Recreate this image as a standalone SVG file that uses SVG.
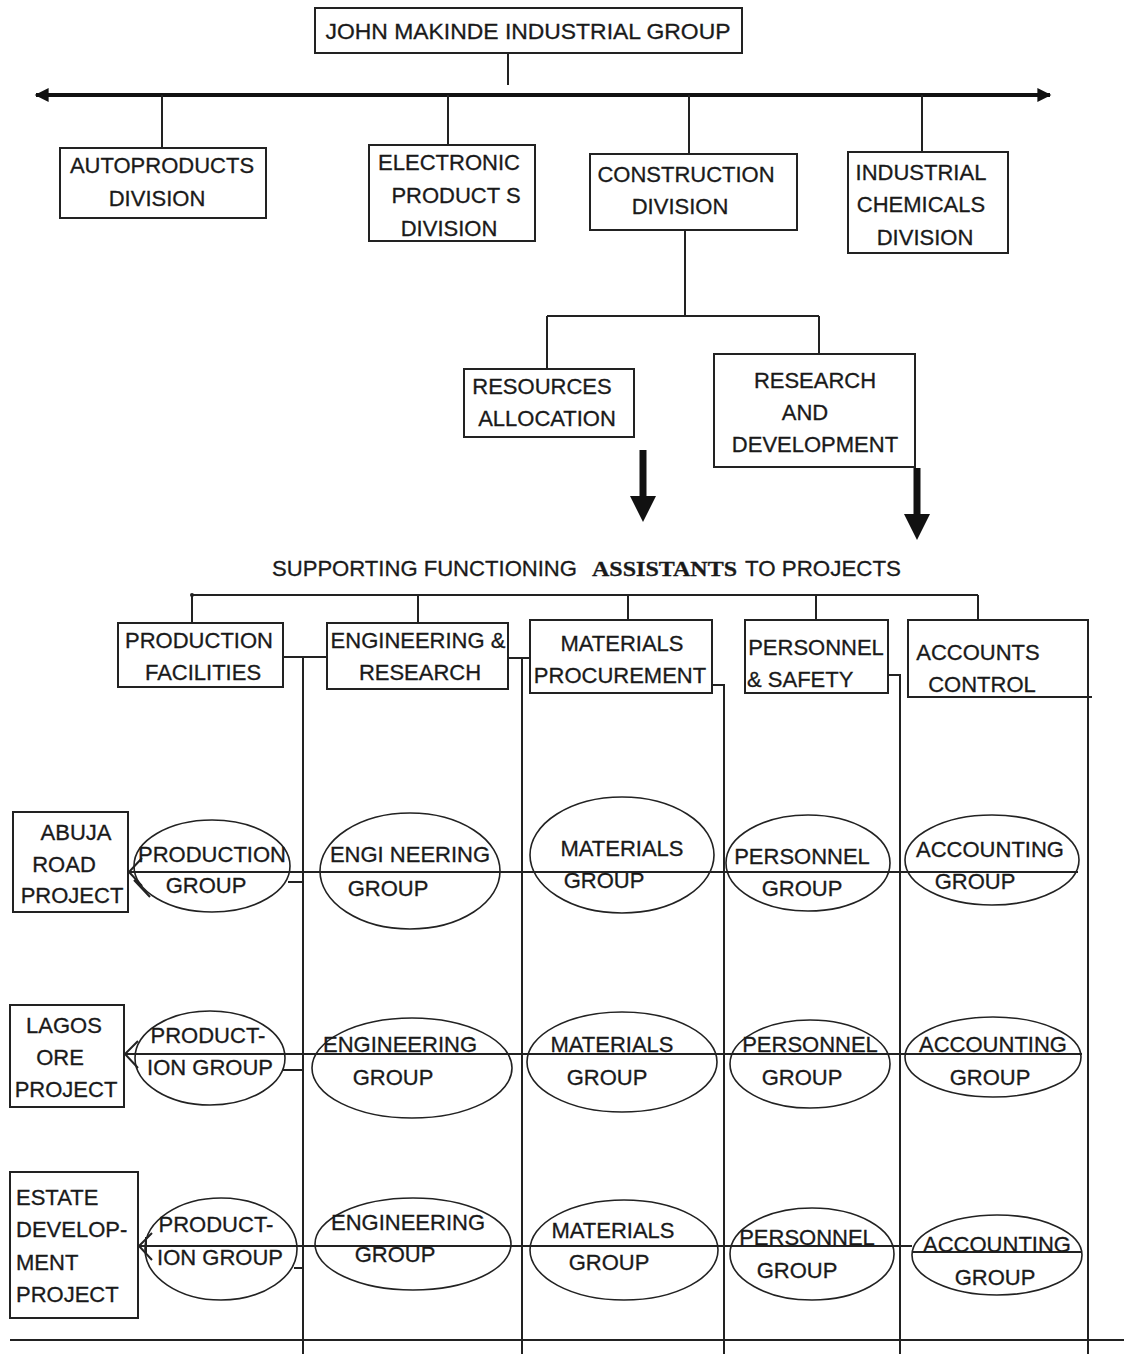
<svg xmlns="http://www.w3.org/2000/svg" width="1124" height="1354" viewBox="0 0 1124 1354">
  <style>
    .box { fill: #fff; stroke: #222; stroke-width: 2; }
    .oval { fill: none; stroke: #222; stroke-width: 1.6; }
    .ln { fill: none; stroke: #222; stroke-width: 2; }
    .t { font-family: "Liberation Sans", Arial, sans-serif; font-size: 22px; fill: #1a1a1a; stroke: #1a1a1a; stroke-width: 0.3; text-anchor: middle; }
    .tl { text-anchor: start; }
    .serif { font-family: "Liberation Serif", "Times New Roman", serif; font-weight: bold; }
  </style>
  <defs>
    <marker id="headSolid" viewBox="0 0 10 10" refX="9" refY="5" markerUnits="userSpaceOnUse" markerWidth="16" markerHeight="14" orient="auto-start-reverse">
      <path d="M0,0 L10,5 L0,10 z" fill="#111"/>
    </marker>
    <marker id="headDown" viewBox="0 0 10 10" refX="0" refY="5" markerUnits="userSpaceOnUse" markerWidth="26" markerHeight="26" orient="auto">
      <path d="M0,0 L10,5 L0,10 z" fill="#111"/>
    </marker>
  </defs>
  <rect width="1124" height="1354" fill="#fff"/>

  <!-- connectors -->
  <g id="connectors">
    <!-- group head to division bus -->
    <line class="ln" x1="508" y1="53" x2="508" y2="85"/>
    <line x1="36" y1="95" x2="1050" y2="95" stroke="#111" stroke-width="4" marker-start="url(#headSolid)" marker-end="url(#headSolid)"/>
    <line class="ln" x1="162" y1="95" x2="162" y2="148"/>
    <line class="ln" x1="448" y1="95" x2="448" y2="145"/>
    <line class="ln" x1="689" y1="95" x2="689" y2="154"/>
    <line class="ln" x1="922" y1="95" x2="922" y2="152"/>
    <!-- construction division branches -->
    <path class="ln" d="M685,230 V316 M547,316 H819 M547,316 V369 M819,316 V354"/>
    <!-- thick down arrows -->
    <line x1="643" y1="450" x2="643" y2="496" stroke="#111" stroke-width="7" marker-end="url(#headDown)"/>
    <line x1="917" y1="468" x2="917" y2="514" stroke="#111" stroke-width="7" marker-end="url(#headDown)"/>
    <!-- support function bus -->
    <path class="ln" d="M192,595 H978 M192,595 V623 M418,595 V623 M628,595 V620 M816,595 V620 M978,595 V620"/>
    <circle cx="192" cy="595" r="2" fill="#222"/>
    <!-- columns running down from each support function -->
    <path class="ln" d="M283,657 H327 M303,657 V1354"/>
    <path class="ln" d="M508,658 H530 M522,658 V1354"/>
    <path class="ln" d="M712,685 H724 V1354"/>
    <path class="ln" d="M888,675 H900 V1354"/>
    <path class="ln" d="M1088,697 V1354 M1084,697 H1092"/>
    <!-- project rows -->
    <path class="ln" d="M128,872 H1078 M288,882 H303"/>
    <path class="ln" d="M124,1054 H1082 M283,1070 H303"/>
    <path class="ln" d="M138,1246 H912 M912,1252 H1082 M294,1268 H303"/>
    <!-- open arrowheads at project boxes -->
    <path class="ln" stroke-width="1.4" d="M142,858 L129,872 L142,886 M134,880 L150,897"/>
    <path class="ln" stroke-width="1.4" d="M138,1041 L125,1054 L138,1068"/>
    <path class="ln" stroke-width="1.4" d="M152,1233 L139,1246 L152,1260 M146,1237 V1255"/>
    <!-- base line -->
    <line class="ln" x1="10" y1="1340" x2="1124" y2="1340"/>
  </g>

  <g id="group-head">
    <rect class="box" x="315" y="8" width="427" height="45"/>
    <text class="t" x="528" y="39" textLength="405" lengthAdjust="spacingAndGlyphs">JOHN MAKINDE INDUSTRIAL GROUP</text>
  </g>

  <g id="autoproducts">
    <rect class="box" x="60" y="148" width="206" height="70"/>
    <text class="t" x="162" y="173">AUTOPRODUCTS</text>
    <text class="t" x="157" y="206">DIVISION</text>
  </g>

  <g id="electronic">
    <rect class="box" x="369" y="145" width="166" height="96"/>
    <text class="t" x="449" y="170">ELECTRONIC</text>
    <text class="t" x="456" y="203">PRODUCT S</text>
    <text class="t" x="449" y="236">DIVISION</text>
  </g>

  <g id="construction">
    <rect class="box" x="590" y="154" width="207" height="76"/>
    <text class="t" x="686" y="182">CONSTRUCTION</text>
    <text class="t" x="680" y="214">DIVISION</text>
  </g>

  <g id="chemicals">
    <rect class="box" x="848" y="152" width="160" height="101"/>
    <text class="t" x="921" y="180">INDUSTRIAL</text>
    <text class="t" x="921" y="212">CHEMICALS</text>
    <text class="t" x="925" y="245">DIVISION</text>
  </g>

  <g id="resources">
    <rect class="box" x="464" y="369" width="170" height="68"/>
    <text class="t" x="542" y="394">RESOURCES</text>
    <text class="t" x="547" y="426">ALLOCATION</text>
  </g>

  <g id="research-development">
    <rect class="box" x="714" y="354" width="201" height="113"/>
    <text class="t" x="815" y="388">RESEARCH</text>
    <text class="t" x="805" y="420">AND</text>
    <text class="t" x="815" y="452">DEVELOPMENT</text>
  </g>

  <g id="support-heading">
    <text class="t tl" x="272" y="576" textLength="305" lengthAdjust="spacingAndGlyphs">SUPPORTING FUNCTIONING</text>
    <text class="t tl serif" x="592" y="576" textLength="145" lengthAdjust="spacingAndGlyphs">ASSISTANTS</text>
    <text class="t tl" x="745" y="576" textLength="156" lengthAdjust="spacingAndGlyphs">TO PROJECTS</text>
  </g>

  <g id="production-facilities">
    <rect class="box" x="118" y="623" width="165" height="64"/>
    <text class="t" x="199" y="648">PRODUCTION</text>
    <text class="t" x="203" y="680">FACILITIES</text>
  </g>

  <g id="engineering-research">
    <rect class="box" x="327" y="623" width="181" height="66"/>
    <text class="t" x="418" y="648">ENGINEERING &amp;</text>
    <text class="t" x="420" y="680">RESEARCH</text>
  </g>

  <g id="materials-procurement">
    <rect class="box" x="530" y="620" width="182" height="73"/>
    <text class="t" x="622" y="651">MATERIALS</text>
    <text class="t" x="620" y="683">PROCUREMENT</text>
  </g>

  <g id="personnel-safety">
    <rect class="box" x="745" y="620" width="143" height="73"/>
    <text class="t" x="816" y="655">PERSONNEL</text>
    <text class="t tl" x="747" y="687">&amp; SAFETY</text>
  </g>

  <g id="accounts-control">
    <rect class="box" x="908" y="620" width="180" height="77"/>
    <text class="t" x="978" y="660">ACCOUNTS</text>
    <text class="t" x="982" y="692">CONTROL</text>
  </g>

  <!-- Abuja road project row -->
  <g id="abuja">
    <rect class="box" x="13" y="812" width="115" height="100"/>
    <text class="t" x="76" y="840">ABUJA</text>
    <text class="t" x="64" y="872">ROAD</text>
    <text class="t" x="72" y="903">PROJECT</text>
  </g>
  <g id="abuja-production">
    <ellipse class="oval" cx="212" cy="866" rx="78" ry="46"/>
    <text class="t" x="212" y="862">PRODUCTION</text>
    <text class="t" x="206" y="893">GROUP</text>
  </g>
  <g id="abuja-engineering">
    <ellipse class="oval" cx="410" cy="871" rx="90" ry="58"/>
    <text class="t" x="410" y="862">ENGI NEERING</text>
    <text class="t" x="388" y="896">GROUP</text>
  </g>
  <g id="abuja-materials">
    <ellipse class="oval" cx="622" cy="855" rx="92" ry="58"/>
    <text class="t" x="622" y="856">MATERIALS</text>
    <text class="t" x="604" y="888">GROUP</text>
  </g>
  <g id="abuja-personnel">
    <ellipse class="oval" cx="808" cy="863" rx="82" ry="48"/>
    <text class="t" x="802" y="864">PERSONNEL</text>
    <text class="t" x="802" y="896">GROUP</text>
  </g>
  <g id="abuja-accounting">
    <ellipse class="oval" cx="992" cy="860" rx="87" ry="45"/>
    <text class="t" x="990" y="857">ACCOUNTING</text>
    <text class="t" x="975" y="889">GROUP</text>
  </g>

  <!-- Lagos ore project row -->
  <g id="lagos">
    <rect class="box" x="10" y="1005" width="114" height="102"/>
    <text class="t" x="64" y="1033">LAGOS</text>
    <text class="t" x="60" y="1065">ORE</text>
    <text class="t" x="66" y="1097">PROJECT</text>
  </g>
  <g id="lagos-production">
    <ellipse class="oval" cx="210" cy="1058" rx="75" ry="47"/>
    <text class="t" x="208" y="1043">PRODUCT-</text>
    <text class="t" x="210" y="1075">ION GROUP</text>
  </g>
  <g id="lagos-engineering">
    <ellipse class="oval" cx="412" cy="1068" rx="100" ry="50"/>
    <text class="t" x="400" y="1052">ENGINEERING</text>
    <text class="t" x="393" y="1085">GROUP</text>
  </g>
  <g id="lagos-materials">
    <ellipse class="oval" cx="622" cy="1062" rx="95" ry="50"/>
    <text class="t" x="612" y="1052">MATERIALS</text>
    <text class="t" x="607" y="1085">GROUP</text>
  </g>
  <g id="lagos-personnel">
    <ellipse class="oval" cx="810" cy="1064" rx="80" ry="44"/>
    <text class="t" x="810" y="1052">PERSONNEL</text>
    <text class="t" x="802" y="1085">GROUP</text>
  </g>
  <g id="lagos-accounting">
    <ellipse class="oval" cx="993" cy="1057" rx="88" ry="40"/>
    <text class="t" x="993" y="1052">ACCOUNTING</text>
    <text class="t" x="990" y="1085">GROUP</text>
  </g>

  <!-- Estate development project row -->
  <g id="estate">
    <rect class="box" x="10" y="1172" width="128" height="146"/>
    <text class="t tl" x="16" y="1205">ESTATE</text>
    <text class="t tl" x="16" y="1237">DEVELOP-</text>
    <text class="t tl" x="16" y="1270">MENT</text>
    <text class="t tl" x="16" y="1302">PROJECT</text>
  </g>
  <g id="estate-production">
    <ellipse class="oval" cx="221" cy="1249" rx="76" ry="51"/>
    <text class="t" x="216" y="1232">PRODUCT-</text>
    <text class="t" x="220" y="1265">ION GROUP</text>
  </g>
  <g id="estate-engineering">
    <ellipse class="oval" cx="413" cy="1244" rx="98" ry="46"/>
    <text class="t" x="408" y="1230">ENGINEERING</text>
    <text class="t" x="395" y="1262">GROUP</text>
  </g>
  <g id="estate-materials">
    <ellipse class="oval" cx="624" cy="1250" rx="94" ry="50"/>
    <text class="t" x="613" y="1238">MATERIALS</text>
    <text class="t" x="609" y="1270">GROUP</text>
  </g>
  <g id="estate-personnel">
    <ellipse class="oval" cx="812" cy="1254" rx="82" ry="46"/>
    <text class="t" x="807" y="1245">PERSONNEL</text>
    <text class="t" x="797" y="1278">GROUP</text>
  </g>
  <g id="estate-accounting">
    <ellipse class="oval" cx="997" cy="1255" rx="85" ry="40"/>
    <text class="t" x="997" y="1252">ACCOUNTING</text>
    <text class="t" x="995" y="1285">GROUP</text>
  </g>
</svg>
